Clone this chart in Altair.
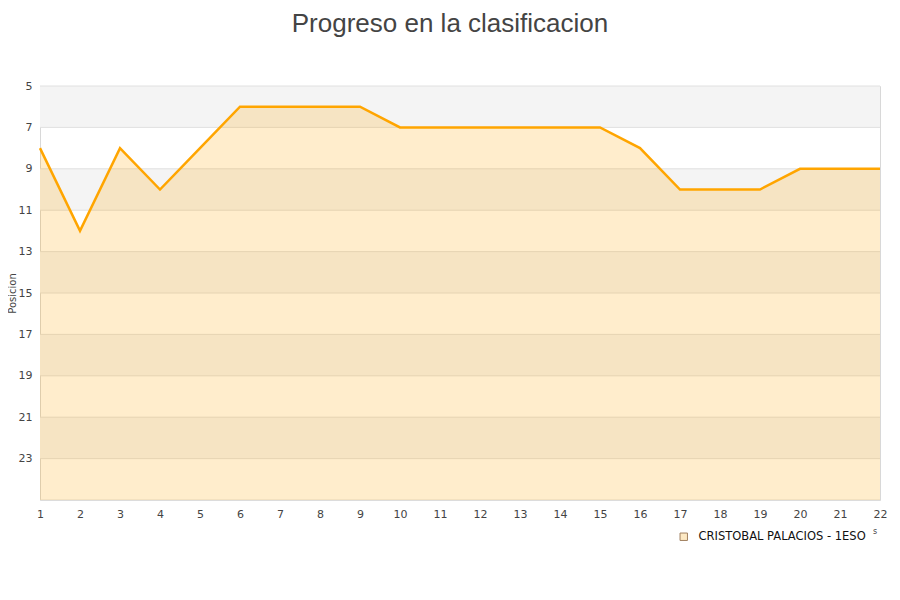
import altair as alt
import pandas as pd

jornadas = list(range(1, 23))
posiciones = [8, 12, 8, 10, 8, 6, 6, 6, 6, 7, 7, 7, 7, 7, 7, 8, 10, 10, 10, 9, 9, 9]
serie = "CRISTOBAL PALACIOS - 1ESO"
y_ticks = [5, 7, 9, 11, 13, 15, 17, 19, 21, 23]
band_starts = [5, 9, 13, 17, 21]

df = pd.DataFrame({"j": jornadas, "p": posiciones, "s": [serie] * len(jornadas)})
bands = pd.DataFrame({"y1": band_starts, "y2": [b + 2 for b in band_starts]})
grid = pd.DataFrame({"g": y_ticks + [25]})

xs = alt.Scale(domain=[1, 22], nice=False, zero=False)
ys = alt.Scale(domain=[5, 25], reverse=True, nice=False, zero=False)

xaxis = alt.Axis(values=jornadas, grid=False, ticks=False, domain=False, labelFontSize=11,
                 labelColor="#444444", labelFont="DejaVu Sans", labelPadding=8, title=None,
                 labelOverlap=False, labelFlush=False, labelBound=False)
yaxis = alt.Axis(values=y_ticks, grid=False, ticks=False, domain=False, labelFontSize=11,
                 labelColor="#444444", labelFont="DejaVu Sans", labelPadding=8,
                 title="Posicion", titleFontSize=10, titleFont="DejaVu Sans",
                 titleFontWeight="normal", titleColor="#444444",
                 titleX=-28, titleY=207, titleAngle=270, titleBaseline="middle",
                 titleAlign="center", labelOverlap=False)

band_layer = alt.Chart(bands).mark_rect(color="#f4f4f4").encode(
    y=alt.Y("y1:Q", scale=ys, axis=yaxis), y2="y2:Q",
    x=alt.value(0), x2=alt.value(840))

grid_layer = alt.Chart(grid).mark_rule(color="#e0e0e0", strokeWidth=1).encode(
    y=alt.Y("g:Q", scale=ys, axis=yaxis), x=alt.value(0), x2=alt.value(840))

area = alt.Chart(df).mark_area(opacity=0.2, interpolate="linear", color="#ffa500").encode(
    x=alt.X("j:Q", scale=xs, axis=xaxis),
    y=alt.Y("p:Q", scale=ys, axis=yaxis),
    y2=alt.datum(25))

line = alt.Chart(df).mark_line(color="#ffa500", strokeWidth=2.5).encode(
    x=alt.X("j:Q", scale=xs, axis=xaxis), y=alt.Y("p:Q", scale=ys, axis=yaxis))

legend_layer = alt.Chart(df).mark_square(size=0, opacity=0).encode(
    x=alt.X("j:Q", scale=xs, axis=xaxis), y=alt.Y("p:Q", scale=ys, axis=yaxis),
    fill=alt.Fill("s:N", scale=alt.Scale(domain=[serie], range=["#fde9c4"]),
                  legend=alt.Legend(title=None, orient="none", legendX=638, legendY=445,
                                    symbolType="square", symbolSize=55,
                                    symbolStrokeColor="#a08060", symbolStrokeWidth=1,
                                    symbolOpacity=1, labelOffset=9, labelLimit=400,
                                    labelFontSize=11.5, labelFont="DejaVu Sans",
                                    labelColor="#111111")))

stray = alt.Chart(pd.DataFrame({"t": ["s"]})).mark_text(
    fontSize=8, font="DejaVu Sans", color="#444444").encode(
    text="t:N", x=alt.value(835), y=alt.value(446))

chart = alt.layer(band_layer, grid_layer, area, line, legend_layer, stray).properties(
    width=840, height=414,
    autosize=alt.AutoSizeParams(type="none"),
    padding={"left": 32, "top": 78, "right": 12, "bottom": 90},
    title=alt.TitleParams("Progreso en la clasificacion", fontSize=26, font="Liberation Sans",
                          fontWeight="normal", color="#444444", anchor="middle",
                          dx=-10, offset=43),
).configure_view(stroke="#d8d8d8", strokeWidth=1).configure_axis(labelOverlap=False)

chart.save("out.html", embed_options={"renderer": "svg", "actions": False})
